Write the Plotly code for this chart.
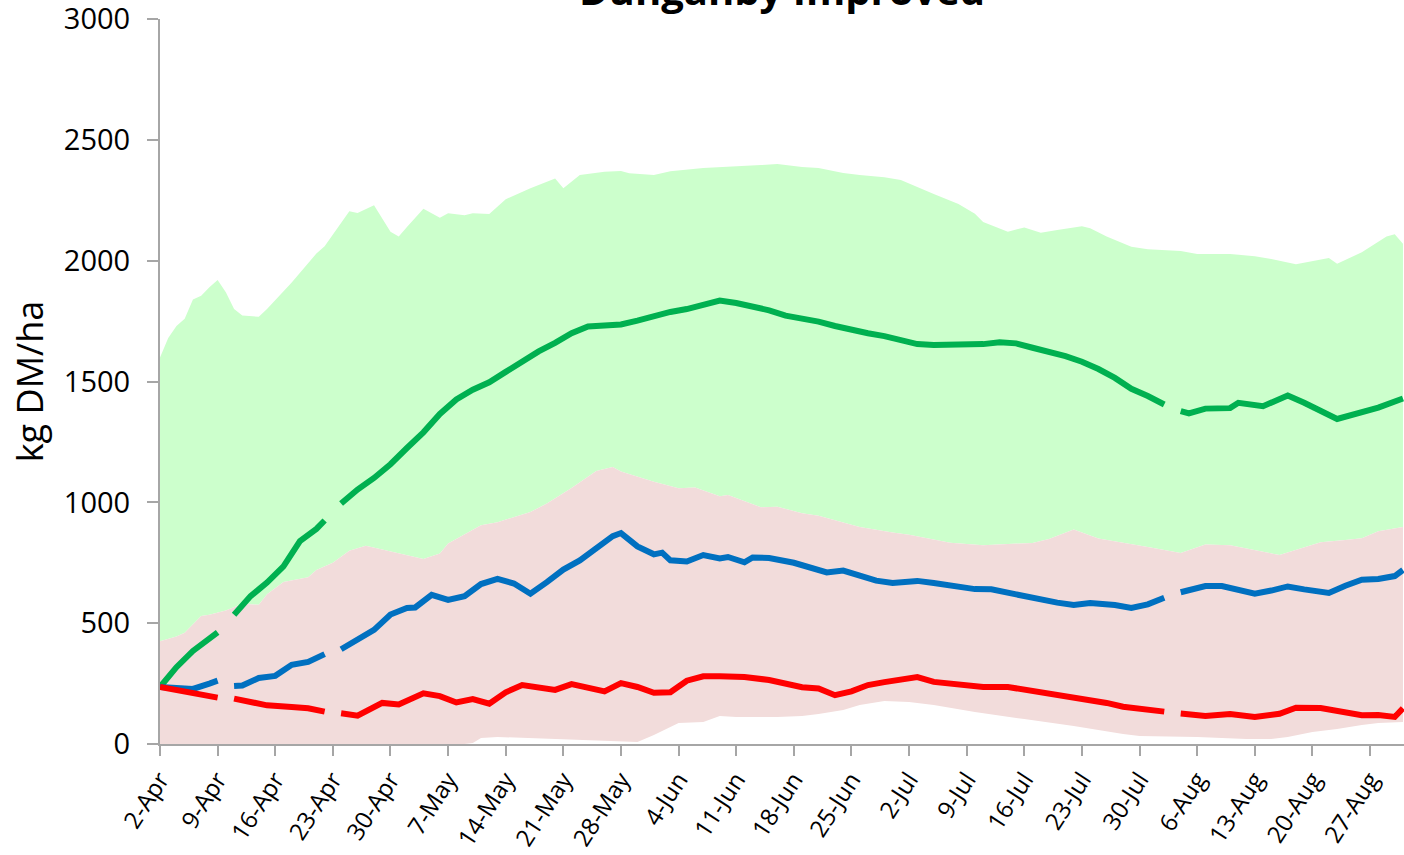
import plotly.graph_objects as go

YEAR = "2019"

# ---- data ----
green_dates = ["04-02","04-04","04-06","04-08","04-09","04-10","04-11","04-13","04-14","04-15","04-17","04-19","04-21","04-22","04-23",
               "04-24","04-26","04-28","04-30","05-02","05-04","05-06","05-08","05-10","05-12","05-14","05-16","05-18","05-20","05-22",
               "05-24","05-26","05-28","05-30","06-01","06-03","06-05","06-07","06-09","06-11","06-13","06-15","06-17","06-19","06-21",
               "06-23","06-25","06-27","06-29","07-01","07-03","07-05","07-07","07-09","07-11","07-13","07-15","07-17","07-19","07-21",
               "07-23","07-25","07-27","07-29","07-31","08-02","08-03","08-04","08-05","08-07","08-10","08-11","08-14","08-17","08-19",
               "08-23","08-27","08-28","08-31"]
green_vals = [236,318,385,440,462,None,535,612,640,668,735,840,890,925,None,
              995,1053,1101,1158,1225,1290,1366,1426,1466,1497,1540,1585,1625,1660,1700,
              1728,1733,1736,1752,1772,1788,1800,1818,1835,1825,1810,1795,1773,1762,1748,
              1730,1712,1700,1688,1670,1655,1651,1651,1651,1655,1663,1658,1640,1625,1605,
              1582,1552,1515,1470,1440,1405,None,1378,1368,1388,1390,1412,1398,1442,1412,
              1345,1378,1392,1430]

blue_dates = ["04-02","04-04","04-06","04-08","04-09","04-10","04-11","04-12","04-14","04-16","04-18","04-20","04-22","04-23",
              "04-24","04-26","04-28","04-30","05-02","05-03","05-05","05-07","05-09","05-11","05-13","05-15","05-17","05-19",
              "05-21","05-23","05-25","05-27","05-28","05-30","06-01","06-02","06-03","06-05","06-07","06-09","06-10","06-12",
              "06-13","06-15","06-18","06-20","06-22","06-24","06-26","06-28","06-30","07-03","07-05","07-08","07-10","07-12",
              "07-14","07-17","07-20","07-22","07-24","07-27","07-29","07-31","08-02","08-03","08-04","08-07","08-09","08-11",
              "08-13","08-15","08-17","08-19","08-22","08-24","08-26","08-28","08-30","08-31"]
blue_vals = [236,232,228,250,262,None,240,242,273,282,328,340,372,None,
             392,432,472,536,563,565,617,596,612,662,683,664,622,670,
             722,760,810,860,873,818,785,792,760,755,782,768,774,752,
             772,770,750,728,710,718,700,676,666,675,666,650,641,640,
             625,602,585,575,583,575,563,578,605,None,628,654,654,640,
             622,635,652,640,625,655,680,683,695,720]

red_dates = ["04-02","04-05","04-07","04-09","04-10","04-11","04-13","04-15","04-18","04-20","04-22","04-23","04-24","04-26",
             "04-29","05-01","05-04","05-06","05-08","05-10","05-12","05-14","05-16","05-18","05-20","05-22","05-24","05-26",
             "05-28","05-30","06-01","06-03","06-05","06-07","06-09","06-12","06-15","06-17","06-19","06-21","06-23","06-25",
             "06-27","06-29","07-01","07-03","07-05","07-08","07-11","07-14","07-17","07-20","07-23","07-26","07-28","07-30",
             "08-01","08-02","08-03","08-04","08-07","08-10","08-13","08-16","08-18","08-21","08-24","08-26","08-28","08-30","08-31"]
red_vals = [236,215,205,192,None,188,172,160,153,148,134,None,127,117,
            170,164,210,198,172,186,167,214,244,237,224,248,236,218,
            252,236,212,214,262,280,280,277,265,248,235,230,202,218,
            244,256,268,277,257,248,236,236,220,204,188,170,154,146,
            141,134,None,126,116,124,112,125,150,149,128,119,120,112,148]

band_high_dates = ["04-02","04-03","04-04","04-05","04-06","04-07","04-08","04-09","04-10","04-11","04-12","04-14","04-15","04-18",
                   "04-21","04-22","04-25","04-26","04-28","04-30","05-01","05-02","05-04","05-06","05-07","05-09","05-10","05-12",
                   "05-14","05-17","05-20","05-21","05-23","05-26","05-28","05-29","06-01","06-03","06-07","06-10","06-14","06-16",
                   "06-19","06-21","06-24","06-26","06-29","07-01","07-04","07-05","07-08","07-10","07-11","07-14","07-16","07-18",
                   "07-20","07-23","07-24","07-26","07-29","07-31","08-04","08-06","08-10","08-13","08-15","08-18","08-22","08-23",
                   "08-26","08-29","08-30","08-31"]
band_high_vals = [1600,1680,1730,1760,1840,1855,1890,1920,1870,1800,1773,1768,1800,1910,
                  2030,2060,2205,2198,2230,2120,2100,2140,2215,2178,2197,2188,2197,2193,
                  2255,2300,2340,2300,2355,2368,2371,2362,2355,2370,2384,2388,2396,2400,
                  2388,2384,2363,2355,2346,2334,2290,2276,2235,2195,2160,2120,2138,2116,
                  2127,2143,2135,2100,2058,2048,2040,2028,2028,2019,2007,1986,2011,1988,
                  2035,2100,2110,2070]

band_mid_dates = ["04-02","04-04","04-05","04-07","04-08","04-10","04-12","04-14","04-15","04-17","04-20","04-21","04-23","04-25",
                  "04-27","04-30","05-03","05-04","05-06","05-07","05-11","05-13","05-17","05-19","05-22","05-25","05-27","05-28",
                  "06-01","06-04","06-06","06-09","06-10","06-14","06-16","06-19","06-21","06-23","06-26","06-30","07-02","07-07",
                  "07-11","07-17","07-19","07-22","07-25","07-31","08-04","08-07","08-10","08-16","08-21","08-24","08-26","08-28","08-31"]
band_mid_vals = [425,445,460,530,535,552,580,576,620,670,690,720,750,800,
                 820,796,774,766,788,830,905,918,960,995,1060,1130,1146,1128,
                 1085,1058,1062,1025,1030,980,982,955,945,925,898,875,866,833,
                 823,832,848,888,850,815,790,826,823,782,835,844,852,880,898]

band_low_dates = ["04-02","05-09","05-10","05-11","05-13","05-19","05-24","05-30","06-01","06-04","06-07","06-09","06-11","06-16",
                  "06-19","06-21","06-24","06-26","06-29","07-02","07-05","07-10","07-16","07-22","07-28","07-30","08-06","08-12",
                  "08-15","08-17","08-20","08-23","08-26","08-28","08-31"]
band_low_vals = [0,0,4,25,29,21,17,8,37,87,91,116,112,112,
                 116,124,141,161,178,174,161,132,103,74,41,33,29,21,
                 21,29,50,62,79,87,91]

week_ticks = ["04-02","04-09","04-16","04-23","04-30","05-07","05-14","05-21","05-28","06-04","06-11","06-18","06-25",
              "07-02","07-09","07-16","07-23","07-30","08-06","08-13","08-20","08-27"]
week_labels = ["2-Apr","9-Apr","16-Apr","23-Apr","30-Apr","7-May","14-May","21-May","28-May","4-Jun","11-Jun","18-Jun","25-Jun",
               "2-Jul","9-Jul","16-Jul","23-Jul","30-Jul","6-Aug","13-Aug","20-Aug","27-Aug"]
y_ticks = [0, 500, 1000, 1500, 2000, 2500, 3000]

title_text = "Dunganby Improved"
y_title = "kg DM/ha"


def iso(lst):
    return [f"{YEAR}-{s}" for s in lst]


GREEN_FILL = "#CCFFCC"
PINK_FILL = "#F2DCDB"
FONT = "Open Sans"

fig = go.Figure()
# green band: between mid boundary and upper boundary
fig.add_trace(go.Scatter(x=iso(band_mid_dates), y=band_mid_vals, mode="lines",
                         line=dict(width=0, color=GREEN_FILL), hoverinfo="skip", showlegend=False))
fig.add_trace(go.Scatter(x=iso(band_high_dates), y=band_high_vals, mode="lines", fill="tonexty",
                         fillcolor=GREEN_FILL, line=dict(width=0, color=GREEN_FILL), showlegend=False))
# pink band: between lower boundary and mid boundary
fig.add_trace(go.Scatter(x=iso(band_low_dates), y=band_low_vals, mode="lines",
                         line=dict(width=0, color=PINK_FILL), hoverinfo="skip", showlegend=False))
fig.add_trace(go.Scatter(x=iso(band_mid_dates), y=band_mid_vals, mode="lines", fill="tonexty",
                         fillcolor=PINK_FILL, line=dict(width=0, color=PINK_FILL), showlegend=False))

for dates, vals, col in [(green_dates, green_vals, "#00B050"),
                         (blue_dates, blue_vals, "#0070C0"),
                         (red_dates, red_vals, "#FF0000")]:
    fig.add_trace(go.Scatter(x=iso(dates), y=vals, mode="lines", connectgaps=False,
                             line=dict(color=col, width=6, shape="linear"), showlegend=False))

AX = "#A6A6A6"
fig.update_layout(
    width=1404, height=855,
    margin=dict(l=160, r=0, t=19, b=111, pad=0),
    paper_bgcolor="white", plot_bgcolor="white",
    font=dict(family=FONT, color="#000000"),
    xaxis=dict(type="date", range=[f"{YEAR}-04-02", f"{YEAR}-08-31 03:00"],
               tickvals=iso(week_ticks), ticktext=week_labels, tickangle=-57,
               tickfont=dict(size=24, family=FONT), ticks="outside", ticklen=10, tickwidth=2, tickcolor=AX,
               showline=True, linecolor=AX, linewidth=2, showgrid=False, zeroline=False, automargin=False),
    yaxis=dict(range=[0, 3000.5], tickvals=y_ticks,
               tickfont=dict(size=29, family=FONT), ticks="outside", ticklen=11, tickwidth=2, tickcolor=AX,
               ticklabelstandoff=11, ticklabeloverflow="allow",
               showline=True, linecolor=AX, linewidth=2, showgrid=False, zeroline=False, automargin=False,
               title=dict(text=y_title, font=dict(size=36, family=FONT), standoff=9)),
    annotations=[dict(text=f"<b>{title_text}</b>", xref="paper", yref="paper", x=0.5, y=1.0,
                      xanchor="center", yanchor="bottom", showarrow=False,
                      font=dict(size=40, family=FONT, color="#000000"))],
)

fig.write_html("out.html", config={"displayModeBar": False},
               post_script="document.body.style.margin='0';document.body.style.overflow='hidden';")
